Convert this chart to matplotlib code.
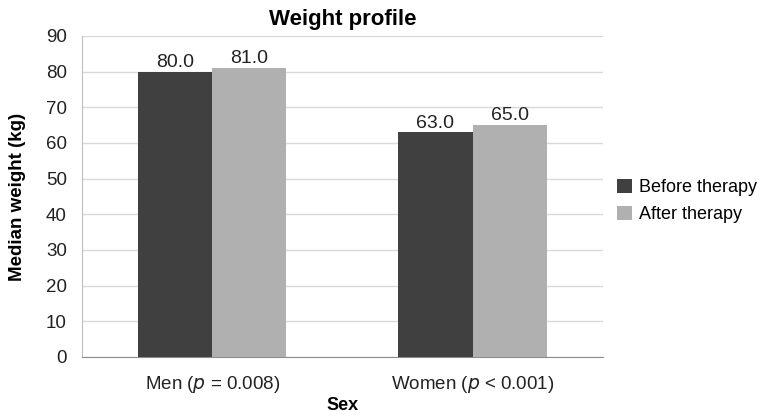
import matplotlib.pyplot as plt
import numpy as np

plt.rcParams['font.family'] = ['Liberation Sans', 'DejaVu Sans']

categories = ['Men ($\\it{p}$ = 0.008)', 'Women ($\\it{p}$ < 0.001)']
before = [80.0, 63.0]
after = [81.0, 65.0]
series_names = ['Before therapy', 'After therapy']

fig = plt.figure(figsize=(7.61, 4.18), dpi=100)
ax = fig.add_axes([0.108, 0.146, 0.684, 0.768])

x = np.arange(len(categories))
w = 0.285
b1 = ax.bar(x - w / 2, before, w, color='#404040', label=series_names[0], zorder=3)
b2 = ax.bar(x + w / 2, after, w, color='#b0b0b0', label=series_names[1], zorder=3)

for bars in (b1, b2):
    for r in bars:
        h = r.get_height()
        ax.text(r.get_x() + r.get_width() / 2, h + 0.2, f'{h:.1f}',
                ha='center', va='bottom', fontsize=14, color='#222222')

ax.set_xlim(-0.5, 1.5)
ax.set_ylim(0, 90)
ax.set_yticks(range(0, 91, 10))
ax.set_xticks(x)
ax.set_xticklabels(categories)
ax.tick_params(axis='both', labelsize=13.5, length=0, colors='#222222')
ax.tick_params(axis='x', pad=12)
ax.tick_params(axis='y', pad=11)
ax.yaxis.grid(True, color='#d9d9d9', linewidth=1, zorder=0)
for s in ['top', 'right']:
    ax.spines[s].set_visible(False)
ax.spines['left'].set_color('#bfbfbf')
ax.spines['bottom'].set_color('#8c8c8c')

ax.set_title('Weight profile', fontsize=16, fontweight='bold', pad=8)
ax.set_xlabel('Sex', fontsize=13, fontweight='bold', labelpad=2)
ax.set_ylabel('Median weight (kg)', fontsize=13.5, fontweight='bold', labelpad=14)

ax.legend(loc='center left', bbox_to_anchor=(1.0, 0.485), frameon=False,
          fontsize=13, handlelength=0.8, handleheight=0.8, handletextpad=0.4,
          labelspacing=0.55, borderaxespad=0.4)

fig.savefig('out.png', dpi=100)
